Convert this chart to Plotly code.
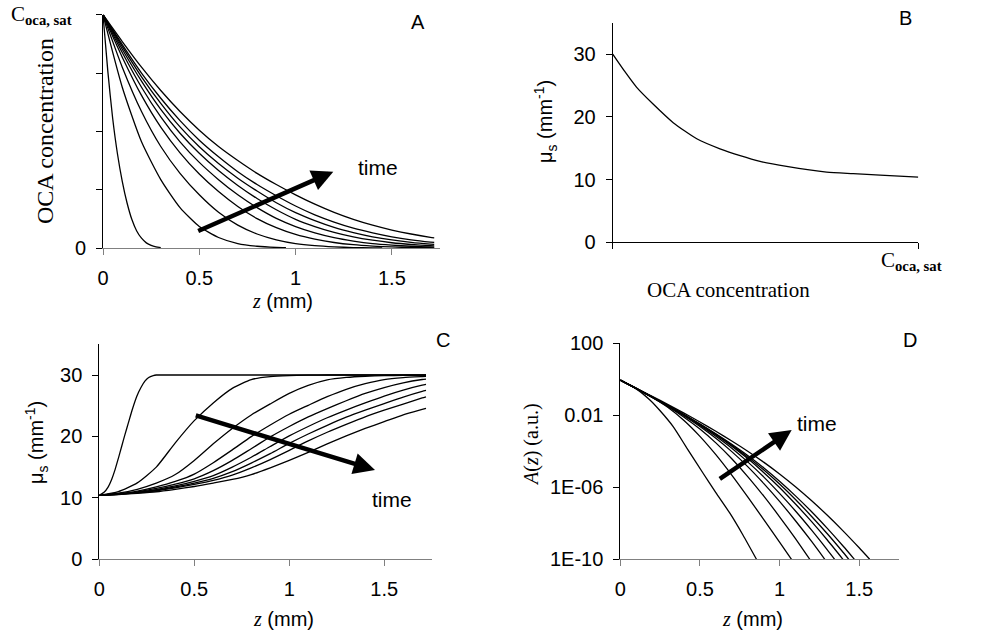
import numpy as np
import plotly.graph_objects as go

W, H = 981, 634

# ---------------- Panel A: OCA concentration (fraction of C_sat) vs z (mm)
z_grid = [0, 0.1, 0.2, 0.3, 0.4, 0.5, 0.6, 0.7, 0.8, 0.9, 1.0, 1.1, 1.2, 1.3, 1.4, 1.5, 1.6, 1.7, 1.72]
a1_z = [0, 0.025, 0.05, 0.075, 0.1, 0.125, 0.15, 0.175, 0.2, 0.225, 0.25, 0.275, 0.3]
a1 = [1, 0.758, 0.557, 0.404, 0.286, 0.193, 0.122, 0.073, 0.042, 0.022, 0.011, 0.005, 0.002]
a2_z = [0, 0.1, 0.2, 0.3, 0.4, 0.5, 0.6, 0.7, 0.8, 0.9, 0.95]
a2 = [1, 0.689, 0.455, 0.293, 0.173, 0.092, 0.045, 0.019, 0.0074, 0.0023, 0.0011]
a3_z = [0, 0.1, 0.2, 0.3, 0.4, 0.5, 0.6, 0.7, 0.8, 0.9, 1.0, 1.1, 1.2, 1.3, 1.4, 1.45]
a3 = [1, 0.775, 0.585, 0.435, 0.32, 0.228, 0.153, 0.098, 0.06, 0.035, 0.019, 0.010, 0.0048, 0.002, 0.0007, 0.0004]
a4 = [1, 0.818, 0.654, 0.518, 0.408, 0.317, 0.242, 0.178, 0.126, 0.087, 0.058, 0.038, 0.0236, 0.0142, 0.0083, 0.0045, 0.0022, 0.001, 0.0008]
a5 = [1, 0.838, 0.689, 0.562, 0.455, 0.367, 0.293, 0.228, 0.173, 0.127, 0.092, 0.065, 0.0445, 0.0299, 0.019, 0.0123, 0.0074, 0.0043, 0.0039]
a6 = [1, 0.852, 0.715, 0.594, 0.492, 0.406, 0.332, 0.268, 0.212, 0.164, 0.123, 0.092, 0.067, 0.0477, 0.0334, 0.0226, 0.0151, 0.0098, 0.009]
a7 = [1, 0.863, 0.734, 0.620, 0.519, 0.434, 0.362, 0.299, 0.244, 0.194, 0.1515, 0.117, 0.088, 0.066, 0.048, 0.0344, 0.024, 0.0166, 0.0154]
a8 = [1, 0.872, 0.75, 0.642, 0.546, 0.462, 0.391, 0.327, 0.272, 0.224, 0.180, 0.142, 0.111, 0.085, 0.065, 0.048, 0.035, 0.0253, 0.0237]
a9 = [1, 0.885, 0.775, 0.675, 0.585, 0.505, 0.435, 0.375, 0.32, 0.272, 0.228, 0.188, 0.153, 0.123, 0.098, 0.077, 0.06, 0.046, 0.0438]

# ---------------- Panel B: mu_s vs OCA concentration (fraction of C_sat)
b_conc = [0, 0.04, 0.0785, 0.133, 0.198, 0.275, 0.351, 0.417, 0.482, 0.569, 0.700, 0.787, 0.875, 1.0]
b_mus = [30, 27.2, 24.7, 22.0, 19.07, 16.5, 14.9, 13.8, 12.9, 12.1, 11.2, 10.95, 10.7, 10.4]

# ---------------- Panel C: mu_s (mm^-1) vs z (mm)
c1_z = [0, 0.025, 0.047, 0.065, 0.083, 0.1, 0.118, 0.135, 0.153, 0.175, 0.197, 0.22, 0.24, 0.26, 0.284, 0.3, 0.32, 1.0, 1.72]
c1 = [10.4, 10.9, 11.8, 13.0, 14.6, 16.4, 18.4, 20.3, 22.2, 24.5, 26.5, 28.0, 29.0, 29.6, 29.9, 30.0, 30.0, 30.0, 30.0]
c2 = [10.4, 11.01, 12.44, 15.01, 18.96, 22.57, 25.46, 27.83, 29.26, 29.73, 29.9, 29.97, 30, 30, 30, 30, 30, 30, 30]
c3 = [10.4, 10.75, 11.4, 12.4, 13.8, 16.1, 18.8, 21.3, 23.5, 25.3, 27.0, 28.3, 29.2, 29.6, 29.8, 29.9, 29.94, 29.98, 30.0]
c4 = [10.4, 10.67, 11.09, 11.78, 12.67, 13.87, 15.72, 17.81, 19.97, 21.87, 23.62, 25.07, 26.48, 27.68, 28.59, 29.25, 29.57, 29.74, 29.77]
c5 = [10.4, 10.64, 10.97, 11.53, 12.24, 13.11, 14.43, 16.1, 18.0, 19.92, 21.62, 23.18, 24.53, 25.81, 27.0, 27.96, 28.73, 29.27, 29.34]
c6 = [10.4, 10.61, 10.9, 11.36, 11.95, 12.69, 13.63, 15.01, 16.61, 18.37, 20.09, 21.62, 23.04, 24.29, 25.46, 26.58, 27.55, 28.34, 28.47]
c7 = [10.4, 10.59, 10.85, 11.24, 11.77, 12.41, 13.18, 14.27, 15.67, 17.19, 18.87, 20.4, 21.81, 23.13, 24.28, 25.36, 26.42, 27.34, 27.5]
c8 = [10.4, 10.57, 10.81, 11.15, 11.62, 12.19, 12.84, 13.7, 14.89, 16.24, 17.74, 19.27, 20.68, 21.97, 23.2, 24.27, 25.28, 26.28, 26.46]
c9 = [10.4, 10.55, 10.75, 11.0, 11.4, 11.85, 12.4, 13.0, 13.8, 14.9, 16.1, 17.4, 18.8, 20.1, 21.3, 22.4, 23.5, 24.4, 24.58]

# ---------------- Panel D: log10 A(z) (a.u.) vs z (mm)
d1_z = [0, 0.1, 0.186, 0.25, 0.332, 0.42, 0.52, 0.6, 0.688, 0.77, 0.855]
d1 = [-0.05, -0.53, -1.15, -1.75, -2.63, -3.85, -5.22, -6.3, -7.44, -8.65, -10]
d2_z = [0, 0.1, 0.2, 0.3, 0.4, 0.5, 0.6, 0.7, 0.8, 0.9, 1.0, 1.075]
d2 = [-0.05, -0.502, -0.997, -1.570, -2.287, -3.169, -4.188, -5.320, -6.532, -7.781, -9.046, -10]
d3_z = [0, 0.1, 0.2, 0.3, 0.4, 0.5, 0.6, 0.7, 0.8, 0.9, 1.0, 1.1, 1.19]
d3 = [-0.05, -0.516, -1.003, -1.528, -2.104, -2.761, -3.531, -4.416, -5.404, -6.481, -7.637, -8.857, -10]
d4_z = [0, 0.1, 0.2, 0.3, 0.4, 0.5, 0.6, 0.7, 0.8, 0.9, 1.0, 1.1, 1.2, 1.284]
d4 = [-0.05, -0.515, -0.997, -1.500, -2.041, -2.623, -3.279, -4.018, -4.851, -5.782, -6.782, -7.858, -8.995, -10]
d5_z = [0, 0.1, 0.2, 0.3, 0.4, 0.5, 0.6, 0.7, 0.8, 0.9, 1.0, 1.1, 1.2, 1.3, 1.346]
d5 = [-0.05, -0.513, -0.988, -1.483, -2.000, -2.560, -3.167, -3.831, -4.588, -5.419, -6.336, -7.314, -8.363, -9.471, -10]
d6_z = [0, 0.1, 0.2, 0.3, 0.4, 0.5, 0.6, 0.7, 0.8, 0.9, 1.0, 1.1, 1.2, 1.3, 1.398]
d6 = [-0.05, -0.510, -0.981, -1.466, -1.972, -2.515, -3.089, -3.712, -4.406, -5.173, -6.008, -6.927, -7.896, -8.929, -10]
d7_z = [0, 0.1, 0.2, 0.3, 0.4, 0.5, 0.6, 0.7, 0.8, 0.9, 1.0, 1.1, 1.2, 1.3, 1.4, 1.435]
d7 = [-0.05, -0.508, -0.980, -1.461, -1.966, -2.493, -3.057, -3.656, -4.311, -5.027, -5.819, -6.676, -7.606, -8.583, -9.622, -10]
d8_z = [0, 0.1, 0.2, 0.3, 0.4, 0.5, 0.6, 0.7, 0.8, 0.9, 1.0, 1.1, 1.2, 1.3, 1.4, 1.47]
d8 = [-0.05, -0.509, -0.980, -1.459, -1.957, -2.480, -3.029, -3.612, -4.234, -4.912, -5.665, -6.476, -7.345, -8.285, -9.275, -10]
d9_z = [0, 0.1, 0.2, 0.3, 0.4, 0.5, 0.6, 0.7, 0.8, 0.9, 1.0, 1.1, 1.2, 1.3, 1.4, 1.5, 1.566]
d9 = [-0.05, -0.494, -0.945, -1.406, -1.880, -2.371, -2.888, -3.426, -3.994, -4.600, -5.256, -5.968, -6.734, -7.556, -8.433, -9.361, -10]

# tick labels
a_yticks = [0, 0.25, 0.5, 0.75, 1.0]
a_yticklabels = ["0", "", "", "", ""]
z_ticks = [0, 0.5, 1, 1.5]
z_ticklabels = ["0", "0.5", "1", "1.5"]
mus_ticks = [0, 10, 20, 30]
d_ticks = [100, 0.01, 1e-6, 1e-10]
d_ticklabels = ["100", "0.01", "1E-06", "1E-10"]

SANS = "Liberation Sans"
SERIF = "Liberation Serif"
LW = 1.3
fig = go.Figure()

def add(x, y, xa, ya):
    fig.add_trace(go.Scatter(x=x, y=y, mode="lines", xaxis=xa, yaxis=ya,
                             line=dict(color="black", width=LW, shape="spline", smoothing=0.6),
                             showlegend=False, hoverinfo="skip"))

# A
add(a1_z, a1, "x", "y")
add(a2_z, a2, "x", "y")
add(a3_z, a3, "x", "y")
for s in [a4, a5, a6, a7, a8, a9]:
    add(z_grid, s, "x", "y")
# B
add(b_conc, b_mus, "x2", "y2")
# C
add(c1_z, c1, "x3", "y3")
for s in [c2, c3, c4, c5, c6, c7, c8, c9]:
    add(z_grid, s, "x3", "y3")
# D
for zz, ll in [(d1_z, d1), (d2_z, d2), (d3_z, d3), (d4_z, d4), (d5_z, d5),
               (d6_z, d6), (d7_z, d7), (d8_z, d8), (d9_z, d9)]:
    add(zz, list(np.power(10.0, ll)), "x4", "y4")

def dom_x(x0, x1):
    return [x0 / W, x1 / W]

def dom_y(top, bottom):
    return [1 - bottom / H, 1 - top / H]

tickfont = dict(family=SANS, size=20, color="black")
xcol = "#808080"

def xax(domain, anchor, rng, tv, tt, col=xcol):
    return dict(domain=domain, anchor=anchor, range=rng, tickvals=tv, ticktext=tt,
                showline=True, linecolor=col, linewidth=1, ticks="outside", ticklen=6,
                tickcolor=col, tickwidth=1, showgrid=False, zeroline=False, automargin=False,
                tickfont=tickfont, ticklabelstandoff=6, fixedrange=True)

def yax(domain, anchor, rng, tv, tt, typ="linear"):
    return dict(domain=domain, anchor=anchor, range=rng, tickvals=tv, ticktext=tt, type=typ,
                showline=True, linecolor="black", linewidth=1, ticks="outside", ticklen=6,
                tickcolor="black", tickwidth=1, showgrid=False, zeroline=False, automargin=False,
                tickfont=tickfont, ticklabelstandoff=6, fixedrange=True)

fig.update_layout(
    template="none",
    width=W, height=H, margin=dict(l=0, r=0, t=0, b=0, pad=0), autosize=False,
    paper_bgcolor="white", plot_bgcolor="white", showlegend=False,
    xaxis=xax(dom_x(103, 440), "y", [0, 1.75], z_ticks, z_ticklabels),
    yaxis=yax(dom_y(14.7, 248), "x", [0, 1.0], a_yticks, a_yticklabels),
    xaxis2=xax(dom_x(612.7, 918.3), "y2", [0, 1.0], [0, 1.0], ["", ""], col="black"),
    yaxis2=yax(dom_y(22.7, 242.3), "x2", [0, 35], mus_ticks, [str(v) for v in mus_ticks]),
    xaxis3=xax(dom_x(99.3, 431.7), "y3", [0, 1.75], z_ticks, z_ticklabels),
    yaxis3=yax(dom_y(344.3, 559.3), "x3", [0, 35], mus_ticks, [str(v) for v in mus_ticks]),
    xaxis4=xax(dom_x(620.3, 899), "y4", [0, 1.75], z_ticks, z_ticklabels),
    yaxis4=yax(dom_y(343.3, 559.3), "x4", [-10, 2], d_ticks, d_ticklabels, typ="log"),
)

def P(x, y):
    return x / W, 1 - y / H

def text(x, y, s, size=20, family=SANS, angle=0):
    px, py = P(x, y)
    fig.add_annotation(x=px, y=py, xref="paper", yref="paper", text=s, showarrow=False,
                       xanchor="center", yanchor="middle", textangle=angle,
                       font=dict(family=family, size=size, color="black"))

def arrow(tx, ty, hx, hy):
    px, py = P(hx, hy)
    fig.add_annotation(x=px, y=py, xref="paper", yref="paper", ax=tx - hx, ay=ty - hy,
                       axref="pixel", ayref="pixel", text="", showarrow=True,
                       arrowhead=2, arrowsize=0.95, arrowwidth=4.5, arrowcolor="black")

zlab = '<span style="font-family:Liberation Serif"><i>z</i></span> (mm)'
csat = "C<sub><b>oca, sat</b></sub>"

# Panel letters
text(418, 22, "A")
text(905, 18, "B")
text(443, 340, "C")
text(910, 340, "D")

# A
text(41, 15, csat, size=21, family=SERIF)
text(45, 131, "OCA concentration", size=24, family=SERIF, angle=-90)
text(282, 301, zlab)
arrow(196.7, 231.7, 333.3, 171.7)
text(378, 167, "time", size=21)

# B
text(545, 122, "\u03bc<sub>s</sub> (mm<sup>-1</sup>)", angle=-90)
text(911, 261, csat, size=21, family=SERIF)
text(728, 290, "OCA concentration", size=21, family=SERIF)

# C
text(36, 443, "\u03bc<sub>s</sub> (mm<sup>-1</sup>)", angle=-90)
text(283, 619, zlab)
arrow(194.3, 415, 375, 470)
text(392, 499, "time", size=21)

# D
text(531, 445, '<i>A</i>(<i>z</i>) (a.u.)', family=SERIF, angle=-90)
text(752, 619, zlab)
arrow(718.3, 480, 791.7, 430)
text(817, 423, "time", size=21)

fig.write_html("out.html", config={"displayModeBar": False},
               post_script="document.body.style.margin='0';document.body.style.padding='0';")
